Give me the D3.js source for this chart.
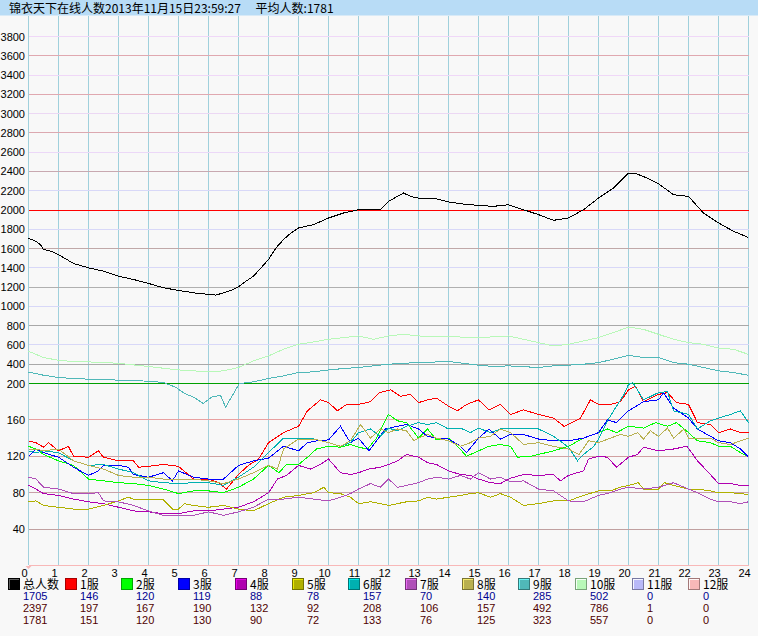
<!DOCTYPE html>
<html><head><meta charset="utf-8">
<script src="https://cdn.jsdelivr.net/npm/d3@7"></script>
<style>html,body{margin:0;padding:0;background:#f8f8f8;}svg{display:block;}</style>
</head><body>
<script>
// ---------- DATA ----------
const titleText = "锦衣天下在线人数2013年11月15日23:59:27\u3000 平均人数:1781";
const hourTicks = d3.range(0, 25);
const upperTicks = [3800,3600,3400,3200,3000,2800,2600,2400,2200,2000,1800,1600,1400,1200,1000,800,600,400,200];
const lowerTicks = [160,120,80,40];
const seriesNames = ["总人数","1服","2服","3服","4服","5服","6服","7服","8服","9服","10服","11服","12服"];
const currentVals = [1705,146,120,119,88,78,157,70,140,285,502,0,0];
const maxVals     = [2397,197,167,190,132,92,208,106,157,492,786,1,0];
const avgVals     = [1781,151,120,130,90,72,133,76,125,323,557,0,0];

const sTotal = [[0,1705],[0.25,1676],[0.4,1640],[0.5,1590],[0.75,1572],[1,1538],[1.5,1445],[2,1400],[2.5,1366],[3,1314],[3.5,1279],[4,1238],[4.5,1193],[5,1166],[5.5,1141],[6,1124],[6.25,1117],[6.5,1141],[6.75,1166],[7,1203],[7.25,1262],[7.5,1314],[7.75,1400],[8,1486],[8.25,1607],[8.5,1693],[8.75,1762],[9,1814],[9.5,1848],[10,1917],[10.5,1969],[11,2003],[11.5,2003],[11.75,2010],[12,2090],[12.5,2176],[12.75,2140],[13,2124],[13.5,2124],[14,2083],[14.5,2062],[15,2048],[15.5,2038],[16,2055],[16.5,2003],[17,1952],[17.5,1893],[18,1917],[18.5,2003],[19,2124],[19.5,2228],[20,2383],[20.25,2376],[20.5,2348],[21,2272],[21.5,2159],[22,2141],[22.5,1969],[23,1866],[23.5,1779],[24,1715]];
const s1 = [[0,137],[0.25,135],[0.5,130],[0.67,135],[1,126],[1.33,131],[1.5,120],[2,119],[2.33,126],[2.5,119],[3,115],[3.5,115],[3.67,108],[4,109],[4.5,111],[5,109],[5.5,95],[6,95],[6.33,91],[6.6,84],[7,100],[7.33,110],[7.67,117],[8,135],[8.5,146],[9,153],[9.3,170],[9.73,182],[10,179],[10.3,170],[10.6,177],[11,177],[11.4,180],[11.7,190],[12.07,193],[12.4,186],[12.73,188],[13,179],[13.3,182],[13.6,184],[14,175],[14.3,170],[14.6,177],[15,182],[15.35,171],[15.73,177],[16.07,166],[16.5,171],[17,166],[17.5,162],[17.85,153],[18,155],[18.4,162],[18.73,182],[19,177],[19.4,177],[19.73,180],[20,193],[20.23,197],[20.5,180],[21,188],[21.3,190],[21.6,179],[22,177],[22.3,157],[22.73,155],[23,146],[23.4,150],[23.73,146],[24,146]];
const s2 = [[0,131],[0.25,128],[0.5,122],[1,115],[1.5,110],[2,95],[2.5,93],[3,91],[3.5,90],[4,88],[4.5,84],[5,79],[5.5,82],[6,82],[6.5,80],[7,86],[7.5,95],[8,110],[8.35,102],[8.6,111],[9,111],[9.3,119],[9.6,128],[10,131],[10.4,130],[10.73,133],[11,130],[11.3,128],[11.6,140],[11.9,160],[12,166],[12.3,159],[12.6,157],[13,140],[13.3,150],[13.6,138],[14,140],[14.3,131],[14.6,120],[15,126],[15.35,131],[15.73,133],[16.07,131],[16.3,119],[16.73,120],[17,122],[17.5,126],[18,131],[18.5,140],[19,146],[19.3,150],[19.6,146],[20,153],[20.5,151],[20.9,157],[21.3,153],[21.6,157],[22,146],[22.3,137],[22.73,135],[23,131],[23.4,131],[23.73,124],[24,120]];
const s3 = [[0,120],[0.25,128],[0.5,124],[1,119],[1.5,108],[2,99],[2.33,104],[2.5,110],[3,110],[3.33,108],[3.5,100],[4,97],[4.5,102],[4.8,93],[5,104],[5.5,97],[6,95],[6.5,95],[7,110],[7.5,115],[8,118],[8.5,131],[9,126],[9.3,135],[9.6,137],[10,138],[10.4,153],[10.73,135],[11,140],[11.35,126],[11.6,137],[11.9,150],[12.3,153],[12.6,155],[13,150],[13.3,142],[13.6,140],[14,139],[14.4,131],[14.6,124],[15,140],[15.35,150],[15.73,139],[16.07,144],[16.5,144],[17,139],[17.5,137],[18,137],[18.5,140],[19,146],[19.3,160],[19.6,157],[20,170],[20.5,180],[21,182],[21.17,190],[21.5,173],[22,162],[22.3,150],[22.73,142],[23,137],[23.4,135],[23.73,128],[24,119]];
const s4 = [[0,88],[0.25,84],[0.5,79],[1,77],[1.5,73],[2,70],[2.5,68],[3,64],[3.5,60],[4,59],[4.5,57],[5,57],[5.5,60],[6,60],[6.5,62],[7,64],[7.5,70],[8,80],[8.3,95],[8.6,99],[9,110],[9.4,106],[9.73,111],[10,117],[10.4,102],[10.73,100],[11,102],[11.35,106],[11.73,108],[12,111],[12.3,115],[12.6,122],[13,119],[13.3,113],[13.6,111],[14,104],[14.4,100],[14.73,99],[15,95],[15.4,91],[15.73,90],[16.07,96],[16.5,100],[17,99],[17.5,100],[17.73,93],[18,99],[18.5,104],[18.67,117],[19,120],[19.3,119],[19.6,108],[20,119],[20.3,122],[20.5,130],[21,126],[21.5,128],[21.95,131],[22.3,115],[22.73,100],[23,90],[23.4,90],[23.73,88],[24,88]];
const s5 = [[0,70],[0.25,71],[0.5,66],[1,64],[1.5,62],[2,62],[2.5,66],[3,71],[3.33,75],[3.5,73],[4,72],[4.5,72],[4.8,62],[5,62],[5.2,68],[5.5,66],[6,64],[6.5,66],[7,62],[7.5,60],[8,68],[8.5,75],[9,77],[9.5,80],[9.85,86],[10,80],[10.4,79],[10.73,75],[11,68],[11.4,70],[11.73,68],[12,66],[12.3,68],[12.6,70],[13,71],[13.3,75],[13.6,73],[14,75],[14.4,77],[14.73,79],[15,80],[15.4,75],[15.73,79],[16.07,75],[16.5,66],[17,68],[17.5,71],[18,71],[18.5,77],[19,82],[19.4,82],[19.73,86],[20,88],[20.33,91],[20.5,84],[21,84],[21.2,91],[21.5,88],[22,84],[22.3,84],[22.73,82],[23,80],[23.4,80],[23.73,79],[24,78]];
const s6 = [[0,126],[0.25,124],[0.5,126],[1,124],[1.5,115],[2,110],[2.5,111],[3,106],[3.5,102],[4,93],[4.5,91],[5,90],[5.5,91],[6,91],[6.5,88],[7,97],[7.5,108],[8,124],[8.5,140],[9,140],[9.5,139],[10,135],[10.4,131],[10.73,135],[11,146],[11.4,150],[11.73,142],[12,151],[12.3,148],[12.6,153],[13,157],[13.3,155],[13.6,157],[14,150],[14.4,151],[14.73,146],[15,151],[15.4,146],[15.73,150],[16.07,151],[16.5,151],[17,150],[17.5,142],[18,130],[18.3,115],[18.5,122],[18.85,131],[19,139],[19.3,159],[19.6,175],[19.85,188],[20,199],[20.15,208],[20.5,182],[21,190],[21.3,191],[21.5,170],[22,166],[22.3,150],[22.73,159],[23,162],[23.4,166],[23.73,170],[24,157]];
const s7 = [[0,97],[0.25,95],[0.5,86],[1,84],[1.5,79],[2,79],[2.33,80],[2.5,71],[3,70],[3.5,66],[4,60],[4.5,55],[5,55],[5.5,55],[6,59],[6.5,55],[7,59],[7.5,64],[8,73],[8.5,73],[9,75],[9.5,73],[10,71],[10.4,75],[10.73,79],[11,84],[11.4,90],[11.73,86],[12,95],[12.3,86],[12.6,88],[13,91],[13.3,95],[13.6,97],[14,95],[14.4,99],[14.73,95],[15,102],[15.4,95],[15.73,97],[16.07,92],[16.5,93],[17,84],[17.5,82],[18,71],[18.5,70],[19,77],[19.4,80],[19.73,84],[20,86],[20.5,84],[21,86],[21.5,91],[22,84],[22.3,80],[22.73,73],[23,70],[23.4,70],[23.73,68],[24,70]];
const s8 = [[0,128],[0.25,128],[0.5,126],[1,128],[1.5,115],[2,110],[2.5,106],[3,99],[3.5,97],[4,97],[4.5,95],[5,95],[5.5,95],[6,93],[6.5,90],[7,95],[7.5,102],[8,110],[8.3,106],[8.5,128],[9,139],[9.5,139],[10,135],[10.4,131],[10.73,137],[11.07,155],[11.4,140],[11.73,150],[12,146],[12.3,150],[12.6,148],[12.85,137],[13,140],[13.3,144],[13.6,140],[14,137],[14.4,131],[14.73,135],[15,140],[15.4,142],[15.73,150],[16.07,146],[16.5,133],[17,135],[17.5,131],[18,128],[18.35,122],[18.67,137],[19,135],[19.4,140],[19.73,144],[20,142],[20.3,146],[20.5,139],[20.73,148],[21,142],[21.3,151],[21.5,140],[21.85,150],[22,140],[22.3,139],[22.73,140],[23,135],[23.4,133],[23.73,137],[24,140]];
const s9 = [[0,318],[0.5,286],[1,262],[1.5,252],[2,245],[3,235],[4,224],[4.5,210],[4.9,196],[5.2,189],[5.5,185],[5.83,178],[6.1,185],[6.4,187],[6.57,174],[6.8,187],[7.03,200],[7.5,217],[8,252],[8.5,279],[9,314],[9.5,321],[10,341],[10.5,355],[11,366],[11.5,383],[12,400],[12.5,410],[13,417],[14,428],[14.5,410],[15,390],[15.5,376],[16,383],[17,366],[17.5,383],[18,390],[18.5,400],[19,417],[19.5,452],[20,492],[20.5,469],[21,469],[21.5,417],[22,400],[22.5,366],[23,331],[23.5,314],[24,285]];
const s10 = [[0,535],[0.5,469],[1,441],[1.5,428],[2,424],[3,410],[4,376],[5,341],[5.5,331],[6,321],[6.5,331],[7,366],[7.5,435],[8,486],[8.5,555],[9,607],[9.5,631],[10,659],[10.5,676],[11,693],[11.5,659],[12,693],[12.5,710],[13,693],[14,686],[15,676],[16,693],[16.5,659],[17,624],[17.5,590],[18,607],[18.5,641],[19,676],[19.5,728],[20,786],[20.5,762],[21,710],[21.5,659],[22,624],[22.5,607],[23,566],[23.5,555],[24,502]];
const s11 = [[0,0],[24,0]];
const s12 = [[0,0],[24,0]];
const allSeries = [sTotal,s1,s2,s3,s4,s5,s6,s7,s8,s9,s10,s11,s12];

// ---------- STYLE ----------
const seriesColors = ["#000000","#ff0000","#00ff00","#0000ff","#b000b0","#b0b000","#00b0b0","#b050b8","#b8b050","#50b8b8","#b8f8b8","#b8b8f8","#f8b8b8"];
const upperGridColors = {3800:"#f0d8f8",3600:"#e0a8b0",3400:"#f0d8f8",3200:"#e0a8b0",3000:"#ecd8f4",2800:"#dca8b0",2600:"#ecd8f8",2400:"#c8a8b0",2200:"#d8d8f8",2000:"#ff0000",1800:"#d8d8f8",1600:"#c0a8a8",1400:"#d8d8f8",1200:"#b0b0b0",1000:"#d8d8f8",800:"#a8a8a8",600:"#d8d8f8",400:"#a8a8a8",200:"#00a000"};
const lowerGridColors = {160:"#e8a0a0",120:"#d0a0a0",80:"#c8a0a8",40:"#c0a0a0"};
const FONT = "'Noto Sans CJK SC','Noto Sans',sans-serif";
const NUMFONT = "'Liberation Sans',Arial,sans-serif";

const W = 758, H = 636;
const svg = d3.select("body").append("svg").attr("width",W).attr("height",H);
svg.append("rect").attr("width",W).attr("height",H).attr("fill","#f8f8f8");

const x = d3.scaleLinear().domain([0,24]).range([28.5,748.5]);
const y = d3.scaleLinear().domain([0,200,3800]).range([565.5,383.5,36.5]);

// title bar
svg.append("rect").attr("x",0).attr("y",0).attr("width",W).attr("height",15.5).attr("fill","#b8dcf6");
svg.append("text").attr("x",9).attr("y",12.5).attr("font-family",FONT).attr("font-size",12)
  .attr("fill","#000").text(titleText);

// vertical grid
svg.append("g").selectAll("line").data(hourTicks).join("line")
  .attr("x1",d=>x(d)).attr("x2",d=>x(d)).attr("y1",16).attr("y2",565)
  .attr("stroke","#a0d0dc").attr("shape-rendering","crispEdges");

// horizontal grid
const gridG = svg.append("g");
gridG.selectAll("line.u").data(upperTicks).join("line").attr("class","u")
  .attr("x1",x(0)).attr("x2",x(24)).attr("y1",d=>y(d)).attr("y2",d=>y(d))
  .attr("stroke",d=>upperGridColors[d]).attr("shape-rendering","crispEdges");
gridG.selectAll("line.l").data(lowerTicks).join("line").attr("class","l")
  .attr("x1",x(0)).attr("x2",x(24)).attr("y1",d=>y(d)).attr("y2",d=>y(d))
  .attr("stroke",d=>lowerGridColors[d]).attr("shape-rendering","crispEdges");

// y labels
svg.append("g").selectAll("text").data(upperTicks.concat(lowerTicks)).join("text")
  .attr("x",25).attr("y",d=>y(d)+4).attr("text-anchor","end")
  .attr("font-family",NUMFONT).attr("font-size",11).attr("fill","#000").text(d=>d);

// x labels
svg.append("g").selectAll("text").data(hourTicks).join("text")
  .attr("x",d=>x(d)-4).attr("y",577).attr("text-anchor","middle")
  .attr("font-family",NUMFONT).attr("font-size",11).attr("fill","#000").text(d=>d);

// series lines
const line = d3.line().x(d=>x(d[0])).y(d=>y(d[1]));
svg.append("g").selectAll("path").data(allSeries).join("path")
  .attr("d",line).attr("fill","none")
  .attr("stroke",(d,i)=>seriesColors[i]).attr("stroke-width",1)
  .attr("shape-rendering","crispEdges");

// small marker at origin
svg.append("path").attr("d",`M${x(0)-3},566 L${x(0)+3},566 L${x(0)},569 Z`).attr("fill","#f8b8b8");

// legend
const lg = svg.append("g");
seriesNames.forEach((name,i)=>{
  const lx = 8 + i*56.7;
  const g = lg.append("g").attr("transform",`translate(${Math.round(lx)},0)`);
  const c = d3.color(seriesColors[i]);
  g.append("rect").attr("x",0.5).attr("y",578.5).attr("width",11).attr("height",11)
    .attr("fill",seriesColors[i]).attr("stroke",c.darker(1.2)).attr("shape-rendering","crispEdges");
  g.append("path").attr("d","M1.5,588.5 L1.5,579.5 L10.5,579.5").attr("fill","none")
    .attr("stroke",i===0?"#606060":c.brighter(0.8)).attr("shape-rendering","crispEdges");
  g.append("text").attr("x",15).attr("y",589).attr("font-family",FONT).attr("font-size",12)
    .attr("fill","#000").text(name);
  g.append("text").attr("x",15).attr("y",600).attr("font-family",NUMFONT).attr("font-size",11)
    .attr("fill","#000090").text(currentVals[i]);
  g.append("text").attr("x",15).attr("y",612).attr("font-family",NUMFONT).attr("font-size",11)
    .attr("fill","#500000").text(maxVals[i]);
  g.append("text").attr("x",15).attr("y",624).attr("font-family",NUMFONT).attr("font-size",11)
    .attr("fill","#500000").text(avgVals[i]);
});
</script>
</body></html>
